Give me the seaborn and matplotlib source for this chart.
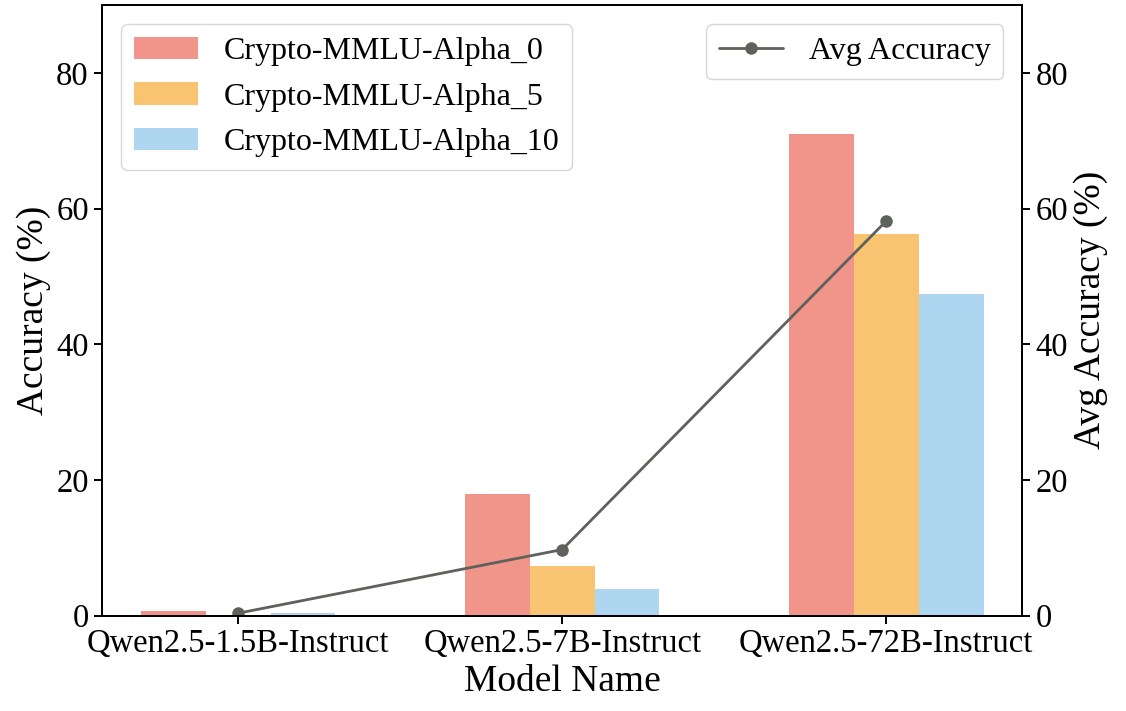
import pandas as pd
import matplotlib.pyplot as plt
import seaborn as sns

models = ["Qwen2.5-1.5B-Instruct", "Qwen2.5-7B-Instruct", "Qwen2.5-72B-Instruct"]
series = ["Crypto-MMLU-Alpha_0", "Crypto-MMLU-Alpha_5", "Crypto-MMLU-Alpha_10"]
alpha_0 = [0.7, 18.0, 71.0]
alpha_5 = [0.0, 7.35, 56.2]
alpha_10 = [0.4, 3.9, 47.35]
avg_acc = [0.37, 9.75, 58.18]
yticks = [0, 20, 40, 60, 80]

colors = ["#F1948A", "#F8C471", "#AED6F1"]

sns.set_style("ticks")
plt.rcParams['font.family'] = ['Liberation Serif', 'DejaVu Serif']
plt.rcParams['axes.linewidth'] = 1.4
plt.rcParams['axes.edgecolor'] = 'black'
plt.rcParams['text.color'] = 'black'
plt.rcParams['axes.labelcolor'] = 'black'
plt.rcParams['xtick.color'] = 'black'
plt.rcParams['ytick.color'] = 'black'

df = pd.DataFrame({
    "Model Name": models * 3,
    "Accuracy": alpha_0 + alpha_5 + alpha_10,
    "Series": [s for s in series for _ in models],
})

fig, ax = plt.subplots(figsize=(11.26, 7.11), dpi=100)
sns.barplot(data=df, x="Model Name", y="Accuracy", hue="Series", palette=colors,
            width=0.6, gap=0, ax=ax, saturation=1, errorbar=None, linewidth=0)
ax.set_xlim(-0.42, 2.42)
ax.set_ylim(0, 90)
ax.set_yticks(yticks)
ax.set_xlabel("Model Name", fontsize=27)
ax.set_ylabel("Accuracy (%)", fontsize=27)
ax.tick_params(labelsize=23.5, width=1.4, length=6)
ax.legend(loc="upper left", fontsize=23, frameon=True, borderaxespad=0.6)

ax2 = ax.twinx()
ax2.plot(range(len(models)), avg_acc, color="#5f615c", marker="o", markersize=8,
         linewidth=2, label="Avg Accuracy")
ax2.set_ylim(0, 90)
ax2.set_yticks(yticks)
ax2.set_ylabel("Avg Accuracy (%)", fontsize=27)
ax2.tick_params(labelsize=23.5, width=1.4, length=6)
ax2.legend(loc="upper right", fontsize=23, borderaxespad=0.6)

fig.subplots_adjust(left=0.0906, right=0.908, top=0.993, bottom=0.134)
plt.savefig("out.png", dpi=100)
